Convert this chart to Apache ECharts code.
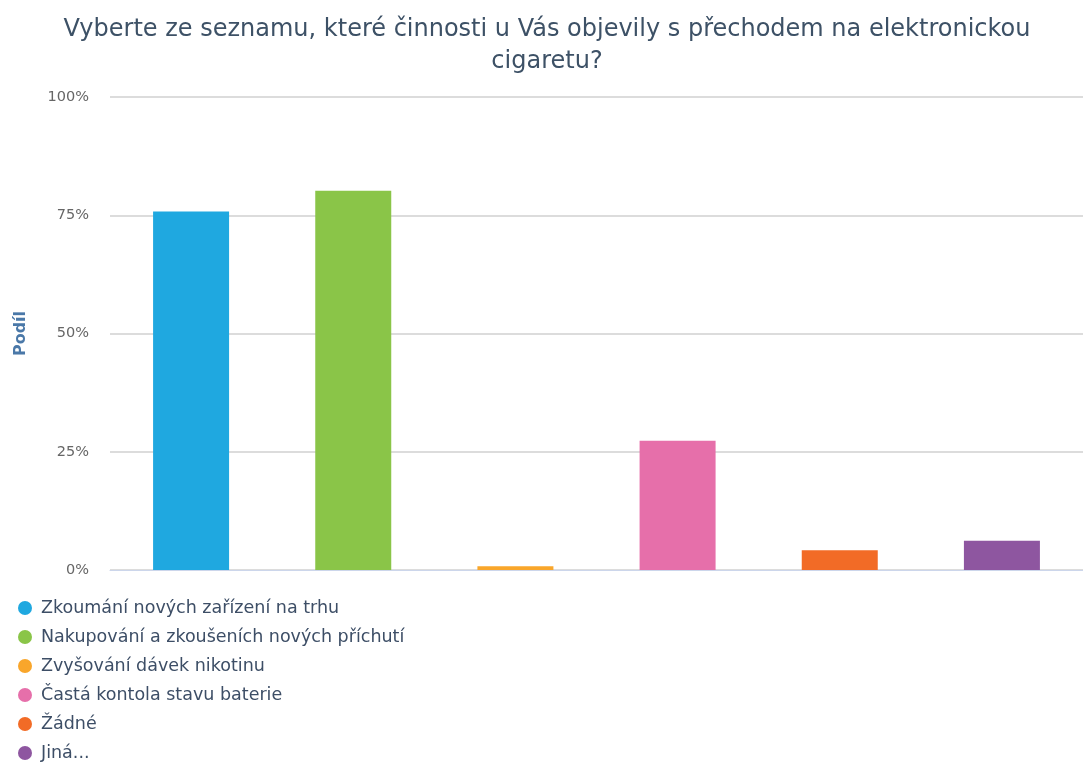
<!DOCTYPE html>
<html>
<head>
<meta charset="utf-8">
<script src="https://cdn.jsdelivr.net/npm/echarts@6/dist/echarts.min.js"></script>
<style>html,body{margin:0;padding:0;background:#fff}#c{width:1083px;height:763px}</style>
</head>
<body>
<div id="c"></div>
<script>
const titleText = 'Vyberte ze seznamu, které činnosti u Vás objevily s přechodem na elektronickou\ncigaretu?';
const categories = ['Zkoumání nových zařízení na trhu','Nakupování a zkoušeních nových příchutí','Zvyšování dávek nikotinu','Častá kontola stavu baterie','Žádné','Jiná...'];
const values = [75.8, 80.2, 0.8, 27.3, 4.2, 6.2];
const colors = ['#1FA8E0','#8AC548','#F9A62B','#E66FAA','#F26B26','#8E56A0'];
const yTicks = [0, 25, 50, 75, 100];

const chart = echarts.init(document.getElementById('c'));
const series = categories.map((name, i) => ({
  name: name,
  type: 'bar',
  stack: 'all',
  barWidth: 76,
  itemStyle: { color: colors[i] },
  data: values.map((v, j) => j === i ? v : null)
}));
chart.setOption({
  animation: false,
  title: {
    text: titleText,
    left: 542,
    textAlign: 'center',
    top: 9,
    textStyle: { fontFamily: 'DejaVu Sans', fontSize: 24, fontWeight: 'normal', color: '#3D5166', lineHeight: 32 }
  },
  color: colors,
  legend: {
    orient: 'vertical',
    left: 18,
    top: 598,
    height: 200,
    padding: 0,
    icon: 'circle',
    itemWidth: 14,
    itemHeight: 14,
    itemGap: 9,
    textStyle: { fontFamily: 'DejaVu Sans', fontSize: 17.5, color: '#3D4E66', lineHeight: 20, padding: [0, 0, 0, 4] },
    data: categories
  },
  grid: { left: 110, right: 0, top: 97, bottom: 193 },
  xAxis: {
    type: 'category',
    data: categories,
    axisLine: { lineStyle: { color: '#CCD6EB', width: 1 } },
    axisTick: { alignWithLabel: true, length: 9, lineStyle: { color: '#CCD6EB' } },
    axisLabel: { show: false }
  },
  yAxis: {
    type: 'value',
    min: 0, max: 100, interval: 25,
    name: 'Podíl',
    nameLocation: 'middle',
    nameGap: 81,
    nameTextStyle: { fontFamily: 'DejaVu Sans', fontSize: 16, fontWeight: 'bold', color: '#4A78A8' },
    axisLabel: { formatter: v => yTicks.includes(v) ? v + '%' : '', fontFamily: 'DejaVu Sans', fontSize: 14.5, color: '#666666', margin: 21 },
    splitLine: { lineStyle: { color: '#D0D0D0', width: 1.5 } },
    axisLine: { show: false },
    axisTick: { show: false }
  },
  series: series
});
</script>
</body>
</html>
